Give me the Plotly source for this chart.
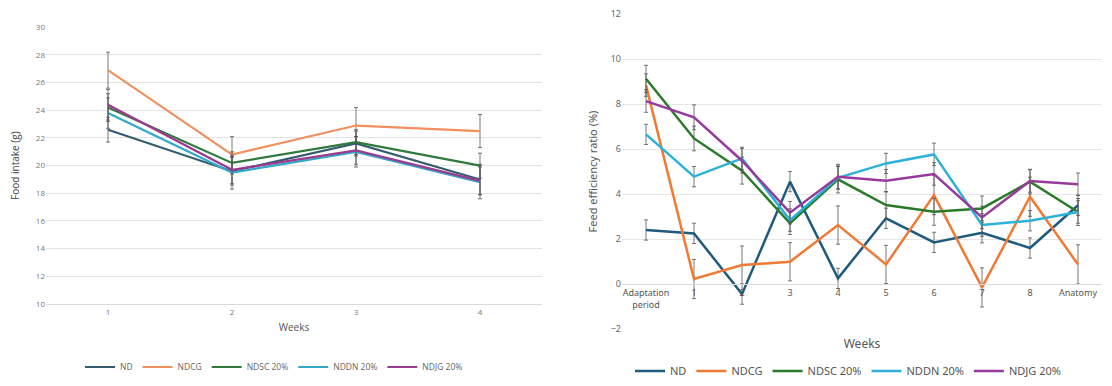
import plotly.graph_objects as go

# ---------------- Data ----------------
series_names = ["ND", "NDCG", "NDSC 20%", "NDDN 20%", "NDJG 20%"]
colors_left = ["#355d70", "#f0905f", "#2f7a3c", "#33a9c9", "#9b3a8e"]
colors_right = ["#1f5b7c", "#f07a33", "#2a7a2a", "#2eb1d8", "#963a9c"]

# Left: Food intake (g)
weeks_left = ["1", "2", "3", "4"]
fi_ND = [22.6, 19.6, 21.6, 19.0]
fi_NDCG = [26.9, 20.8, 22.9, 22.5]
fi_NDSC = [24.2, 20.2, 21.7, 20.0]
fi_NDDN = [23.8, 19.5, 21.0, 18.8]
fi_NDJG = [24.4, 19.7, 21.1, 18.9]
fi_ND_err = [0.9, 1.0, 0.9, 1.1]
fi_NDCG_err = [1.3, 1.3, 1.3, 1.2]
fi_NDSC_err = [1.0, 0.8, 0.9, 0.9]
fi_NDDN_err = [1.1, 1.2, 1.1, 1.2]
fi_NDJG_err = [1.1, 1.0, 1.0, 1.0]

# Right: Feed efficiency ratio (%)
weeks_right = ["Adaptation<br>period", "1", "2", "3", "4", "5", "6", "7", "8", "Anatomy"]
fer_ND = [2.4, 2.25, -0.45, 4.55, 0.25, 2.92, 1.85, 2.28, 1.6, 3.5]
fer_NDCG = [8.84, 0.22, 0.84, 0.99, 2.62, 0.87, 3.95, -0.15, 3.88, 0.87]
fer_NDSC = [9.12, 6.47, 5.04, 2.7, 4.65, 3.51, 3.21, 3.36, 4.55, 3.2]
fer_NDDN = [6.65, 4.77, 5.58, 2.84, 4.72, 5.36, 5.76, 2.62, 2.81, 3.2]
fer_NDJG = [8.13, 7.41, 5.48, 3.17, 4.77, 4.59, 4.89, 2.96, 4.58, 4.43]
fer_ND_err = [0.45, 0.45, 0.45, 0.45, 0.45, 0.45, 0.45, 0.45, 0.45, 0.45]
fer_NDCG_err = [0.5, 0.87, 0.85, 0.85, 0.85, 0.85, 0.87, 0.87, 0.87, 0.87]
fer_NDSC_err = [0.6, 0.55, 0.6, 0.5, 0.6, 0.6, 0.6, 0.55, 0.55, 0.6]
fer_NDDN_err = [0.45, 0.45, 0.5, 0.5, 0.5, 0.45, 0.5, 0.5, 0.45, 0.5]
fer_NDJG_err = [0.5, 0.55, 0.55, 0.5, 0.55, 0.5, 0.5, 0.5, 0.5, 0.5]

left_vals = [fi_ND, fi_NDCG, fi_NDSC, fi_NDDN, fi_NDJG]
left_errs = [fi_ND_err, fi_NDCG_err, fi_NDSC_err, fi_NDDN_err, fi_NDJG_err]
right_vals = [fer_ND, fer_NDCG, fer_NDSC, fer_NDDN, fer_NDJG]
right_errs = [fer_ND_err, fer_NDCG_err, fer_NDSC_err, fer_NDDN_err, fer_NDJG_err]

W, H = 1112, 386

def px_x(p):
    return p / W

def px_y(p):
    return (H - p) / H

fig = go.Figure()

for name, vals, errs, col in zip(series_names, left_vals, left_errs, colors_left):
    fig.add_trace(go.Scatter(
        x=weeks_left, y=vals, name=name, mode="lines",
        line=dict(color=col, width=2.2),
        error_y=dict(type="data", array=errs, visible=True, color="#555555",
                     thickness=0.8, width=2),
        xaxis="x", yaxis="y", legend="legend",
    ))

for name, vals, errs, col in zip(series_names, right_vals, right_errs, colors_right):
    fig.add_trace(go.Scatter(
        x=weeks_right, y=vals, name=name, mode="lines",
        line=dict(color=col, width=2.5),
        error_y=dict(type="data", array=errs, visible=True, color="#555555",
                     thickness=0.8, width=2),
        xaxis="x2", yaxis="y2", legend="legend2",
    ))

left_font = "Open Sans"
right_font = "Noto Sans"

y2_bottom = px_y(329)
y2_top = px_y(14)
zero_pos = y2_bottom + (0 - (-2)) / (12 - (-2)) * (y2_top - y2_bottom)

fig.update_layout(
    width=W, height=H,
    margin=dict(l=0, r=0, t=0, b=0, autoexpand=False),
    paper_bgcolor="white", plot_bgcolor="white",
    showlegend=True,
    xaxis=dict(
        domain=[px_x(46), px_x(542)], anchor="y", automargin=False,
        type="category", range=[-0.5, 3.5], showgrid=False, showline=True, linecolor="#d9d9d9",
        ticks="", tickfont=dict(family=left_font, size=8, color="#777777"),
        title=dict(text="Weeks", font=dict(family=left_font, size=10, color="#555555"), standoff=8),
    ),
    yaxis=dict(
        domain=[px_y(304), px_y(27.3)], anchor="x", automargin=False,
        range=[10, 30], dtick=2, showgrid=True, gridcolor="#e3e3e3", gridwidth=1,
        zeroline=False, showline=False, ticks="",
        tickfont=dict(family=left_font, size=8, color="#777777"),
        title=dict(text="Food intake (g)", font=dict(family=left_font, size=10, color="#444444"), standoff=14),
    ),
    xaxis2=dict(
        domain=[px_x(622), px_x(1102)], anchor="free", position=zero_pos, automargin=False,
        type="category", range=[-0.5, 9.5], showgrid=False, showline=True, linecolor="#d9d9d9",
        ticks="", tickfont=dict(family=right_font, size=9, color="#555555"),
        title=dict(text="Weeks", font=dict(family=right_font, size=12, color="#555555"), standoff=30),
    ),
    yaxis2=dict(
        domain=[y2_bottom, y2_top], anchor="x2", automargin=False,
        range=[-2, 12], dtick=2, showgrid=True, gridcolor="#e6e6e6", gridwidth=1,
        zeroline=False, showline=False, ticks="",
        tickfont=dict(family=right_font, size=9, color="#666666"),
        title=dict(text="Feed efficiency ratio (%)", font=dict(family=right_font, size=11, color="#555555"), standoff=10),
    ),
    legend=dict(
        orientation="h", x=px_x(274), xanchor="center", y=px_y(367), yanchor="middle",
        font=dict(family=left_font, size=8.5, color="#666666"),
        bgcolor="rgba(0,0,0,0)", itemwidth=30, tracegroupgap=0,
    ),
    legend2=dict(
        orientation="h", x=px_x(848), xanchor="center", y=px_y(371), yanchor="middle",
        font=dict(family=right_font, size=11, color="#555555"),
        bgcolor="rgba(0,0,0,0)", itemwidth=30,
    ),
    annotations=[
        dict(x="4", y=24.45, xref="x", yref="y", text="n.s", showarrow=False,
             font=dict(family=left_font, size=11, color="#666666")),
    ],
)

fig.write_html("out.html", config={"displayModeBar": False},
               post_script="document.body.style.margin='0';")
